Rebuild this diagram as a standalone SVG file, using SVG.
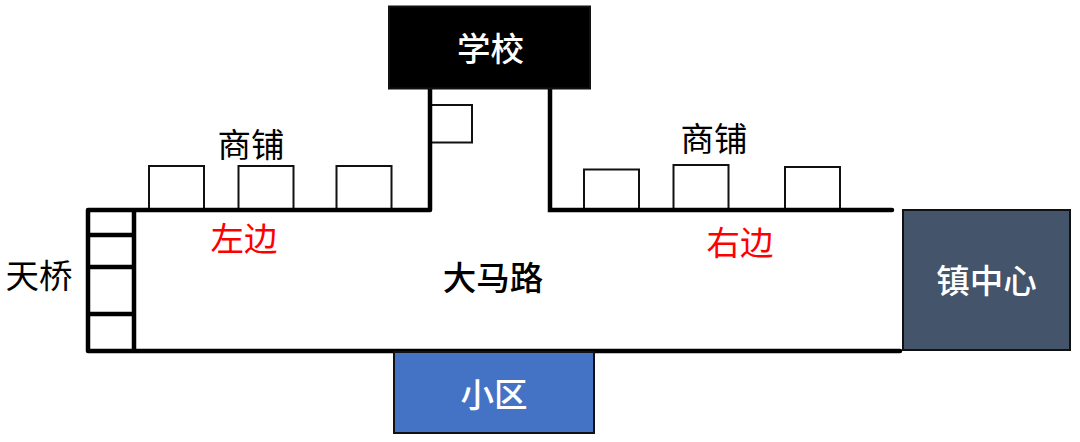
<svg xmlns="http://www.w3.org/2000/svg" width="1080" height="442" viewBox="0 0 1080 442">
<style>
text{font-family:"Noto Sans CJK SC","Liberation Sans",sans-serif;font-size:33.500px;text-anchor:middle}
.w{fill:#fff;font-weight:500}.k{fill:#000}.r{fill:#f00}.b{font-weight:500}
.shop{fill:#fff;stroke:#111;stroke-width:2}
.road{fill:none;stroke:#000;stroke-width:4.500;stroke-linecap:round}
.node{stroke:#111;stroke-width:2}
</style>
<rect width="1080" height="442" fill="#fff"/>
<g id="shops">
<rect class="shop" x="149" y="166" width="55" height="43"/>
<rect class="shop" x="238.500" y="166" width="55" height="43"/>
<rect class="shop" x="336.500" y="166" width="55" height="43"/>
<rect class="shop" x="431" y="105" width="41" height="37.500"/>
<rect class="shop" x="584" y="169.500" width="55" height="40"/>
<rect class="shop" x="673.500" y="165" width="55" height="44"/>
<rect class="shop" x="785" y="167" width="55" height="42"/>
</g>
<g id="connectors">
<path class="road" d="M88 210H430M430 210V89M550 89V210H892M88 351H900M88 210V351M134 210V351M88 235H134M88 267H134M88 314H134"/>
</g>
<g id="school"><rect class="node" x="389" y="6.500" width="201" height="82" fill="#000"/><text class="w" x="490.500" y="61">学校</text></g>
<g id="town-center"><rect class="node" x="903" y="210" width="167" height="140" fill="#44546a"/><text class="w" x="986.500" y="293">镇中心</text></g>
<g id="community"><rect class="node" x="394" y="352" width="200" height="81" fill="#4472c4"/><text class="w" x="494" y="407">小区</text></g>
<g id="labels">
<text class="k" x="251" y="156.500">商铺</text>
<text class="k" x="714" y="150.500">商铺</text>
<text class="r" x="244" y="250.500">左边</text>
<text class="r" x="740" y="254.500">右边</text>
<text class="k" x="39" y="288">天桥</text>
<text class="k b" x="493" y="289.500">大马路</text>
</g>
</svg>
